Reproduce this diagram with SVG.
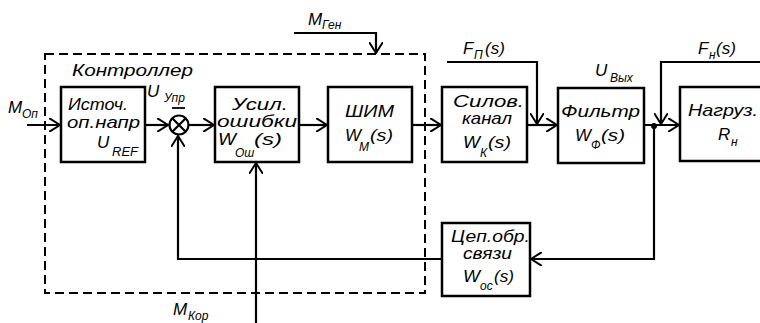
<svg xmlns="http://www.w3.org/2000/svg" width="760" height="323" viewBox="0 0 760 323">
<defs>
<marker id="arr" viewBox="0 0 12 14" refX="11" refY="7" markerWidth="12" markerHeight="14" markerUnits="userSpaceOnUse" orient="auto">
<path d="M0,0 L11,7 L0,14" fill="none" stroke="#000" stroke-width="2"/>
</marker>
<style>
.box{fill:#fff;stroke:#000;stroke-width:2.5}
.ln{fill:none;stroke:#000;stroke-width:2.2}
.dash{fill:none;stroke:#000;stroke-width:2;stroke-dasharray:9 5}
text{font-family:"Liberation Sans",Arial,sans-serif;font-style:italic;font-weight:normal;fill:#000}
.t{font-size:17px}
.s{font-size:12px}
</style>
</defs>
<rect width="760" height="323" fill="#fff"/>

<g id="controller">
<rect class="dash" x="45" y="54" width="380" height="239"/>
<text class="t" x="72" y="76" textLength="121" lengthAdjust="spacingAndGlyphs">Контроллер</text>
</g>

<g id="connectors">
<path class="ln" d="M27,125 H60" marker-end="url(#arr)"/>
<path class="ln" d="M145,125 H168" marker-end="url(#arr)"/>
<path class="ln" d="M189,125 H214" marker-end="url(#arr)"/>
<path class="ln" d="M299,125 H327" marker-end="url(#arr)"/>
<path class="ln" d="M412,125 H441" marker-end="url(#arr)"/>
<path class="ln" d="M527,125 H557" marker-end="url(#arr)"/>
<path class="ln" d="M447,62 H537 V124" marker-end="url(#arr)"/>
<path class="ln" d="M644,125 H679" marker-end="url(#arr)"/>
<path class="ln" d="M762,62 H661 V124" marker-end="url(#arr)"/>
<path class="ln" d="M654,125 V259 H531" marker-end="url(#arr)"/>
<path class="ln" d="M442,259 H178 V136" marker-end="url(#arr)"/>
<path class="ln" d="M256,323 V163" marker-end="url(#arr)"/>
<path class="ln" d="M294,33 H376 V53" marker-end="url(#arr)"/>
<circle cx="654" cy="126" r="3" fill="#000"/>
</g>

<g id="sum">
<circle cx="179" cy="125" r="9.5" fill="#fff" stroke="#000" stroke-width="2.2"/>
<path class="ln" d="M172.3,118.3 L185.7,131.7 M185.7,118.3 L172.3,131.7"/>
<line x1="172" y1="108" x2="185" y2="108" stroke="#000" stroke-width="1.8"/>
</g>

<g id="src">
<rect class="box" x="61" y="87" width="84" height="75"/>
<text class="t" x="68" y="110" textLength="60" lengthAdjust="spacingAndGlyphs">Источ.</text>
<text class="t" x="67" y="128" textLength="73" lengthAdjust="spacingAndGlyphs">оп.напр</text>
<text class="t" x="97" y="148">U</text>
<text class="s" x="112" y="156" textLength="26" lengthAdjust="spacingAndGlyphs">REF</text>
</g>

<g id="amp">
<rect class="box" x="215" y="87" width="84" height="75"/>
<text class="t" x="232" y="110" textLength="56" lengthAdjust="spacingAndGlyphs">Усил.</text>
<text class="t" x="217" y="127" textLength="80" lengthAdjust="spacingAndGlyphs">ошибки</text>
<text class="t" x="218" y="145" textLength="18" lengthAdjust="spacingAndGlyphs">W</text>
<text class="s" x="235" y="157">Ош</text>
<text class="t" x="254" y="145" textLength="28" lengthAdjust="spacingAndGlyphs">(s)</text>
</g>

<g id="pwm">
<rect class="box" x="328" y="87" width="84" height="75"/>
<text class="t" x="345" y="117" textLength="49" lengthAdjust="spacingAndGlyphs">ШИМ</text>
<text class="t" x="345" y="141" textLength="16" lengthAdjust="spacingAndGlyphs">W</text>
<text class="s" x="359" y="151">M</text>
<text class="t" x="370" y="141" textLength="23" lengthAdjust="spacingAndGlyphs">(s)</text>
</g>

<g id="power">
<rect class="box" x="442" y="87" width="85" height="75"/>
<text class="t" x="453" y="107" textLength="71" lengthAdjust="spacingAndGlyphs">Силов.</text>
<text class="t" x="462" y="124" textLength="50" lengthAdjust="spacingAndGlyphs">канал</text>
<text class="t" x="463" y="148" textLength="17" lengthAdjust="spacingAndGlyphs">W</text>
<text class="s" x="480" y="157">К</text>
<text class="t" x="488" y="148" textLength="23" lengthAdjust="spacingAndGlyphs">(s)</text>
</g>

<g id="filter">
<rect class="box" x="558" y="88" width="86" height="75"/>
<text class="t" x="561" y="117" textLength="79" lengthAdjust="spacingAndGlyphs">Фильтр</text>
<text class="t" x="575" y="141" textLength="16" lengthAdjust="spacingAndGlyphs">W</text>
<text class="s" x="591" y="149">Ф</text>
<text class="t" x="601" y="141" textLength="24" lengthAdjust="spacingAndGlyphs">(s)</text>
</g>

<g id="load">
<rect class="box" x="680" y="87" width="82" height="74"/>
<text class="t" x="688" y="116" textLength="70" lengthAdjust="spacingAndGlyphs">Нагруз.</text>
<text class="t" x="718" y="140">R</text>
<text class="s" x="731" y="146">н</text>
</g>

<g id="feedback">
<rect class="box" x="442" y="223" width="88" height="73"/>
<text class="t" x="451" y="242" textLength="79" lengthAdjust="spacingAndGlyphs">Цеп.обр.</text>
<text class="t" x="463" y="259" textLength="49" lengthAdjust="spacingAndGlyphs">связи</text>
<text class="t" x="463" y="282" textLength="17" lengthAdjust="spacingAndGlyphs">W</text>
<text class="s" x="480" y="290">ос</text>
<text class="t" x="494" y="282" textLength="20" lengthAdjust="spacingAndGlyphs">(s)</text>
</g>

<g id="labels">
<text class="t" x="8" y="113">M</text>
<text class="s" x="22" y="118">Оп</text>
<text class="t" x="147" y="97">U</text>
<text class="s" x="164" y="102">Упр</text>
<text class="t" x="308" y="25">M</text>
<text class="s" x="322" y="29">Ген</text>
<text class="t" x="463" y="54">F</text>
<text class="s" x="474" y="59">П</text>
<text class="t" x="485" y="54">(s)</text>
<text class="t" x="698" y="54">F</text>
<text class="s" x="709" y="59">н</text>
<text class="t" x="716" y="54">(s)</text>
<text class="t" x="595" y="76">U</text>
<text class="s" x="610" y="82">Вых</text>
<text class="t" x="173" y="315">M</text>
<text class="s" x="188" y="320">Кор</text>
</g>
</svg>
